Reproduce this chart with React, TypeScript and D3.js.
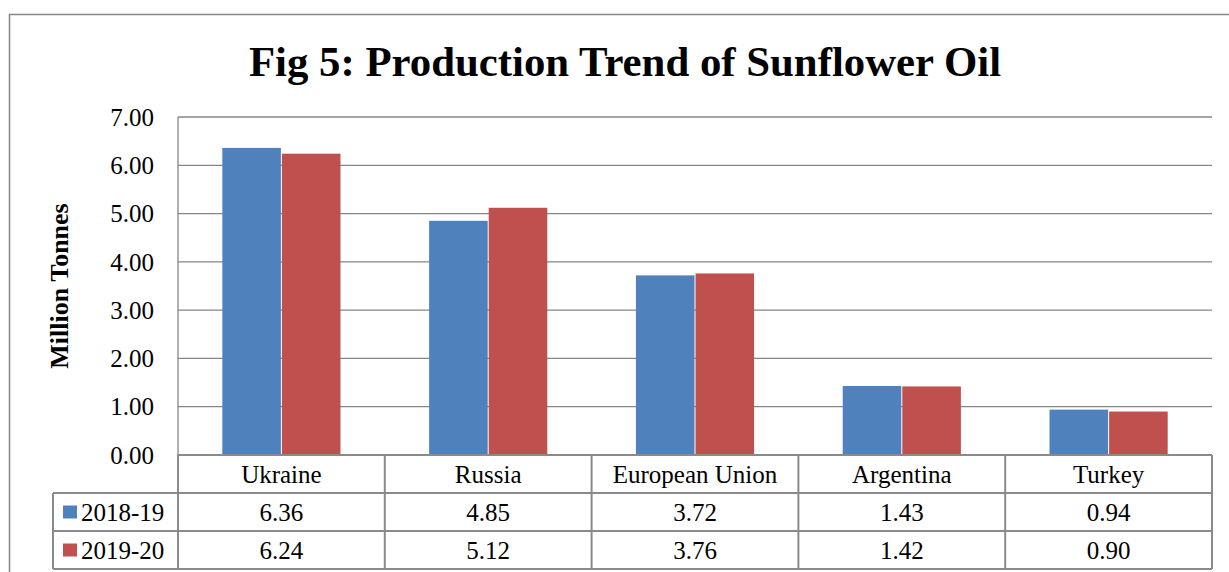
import React from "react";
import * as d3 from "d3";

const categories = ["Ukraine", "Russia", "European Union", "Argentina", "Turkey"];
const seriesNames = ["2018-19", "2019-20"];
const values2018 = [6.36, 4.85, 3.72, 1.43, 0.94];
const values2019 = [6.24, 5.12, 3.76, 1.42, 0.9];
const yTicks = [0, 1, 2, 3, 4, 5, 6, 7];
const colors = ["#4F81BD", "#C0504D"];

const W = 1229;
const H = 572;
const plot = { left: 178, right: 1212, top: 117, bottom: 455 };
const rowH = 38;
const legendLeft = 53;
const font = "'Liberation Serif', 'Times New Roman', serif";
const gridColor = "#868686";
const fs = 25;

const App = () => {
  const series = [values2018, values2019];

  const x = d3.scaleBand<string>()
    .domain(categories)
    .range([plot.left, plot.right]);

  // two bars of ~59px with ~44px gaps each side (Excel gap width 75%)
  const inner = d3.scaleBand<string>()
    .domain(seriesNames)
    .range([0, x.bandwidth()])
    .paddingOuter(0.75)
    .paddingInner(0);

  const y = d3.scaleLinear().domain([0, 7]).range([plot.bottom, plot.top]);

  const tableTop = plot.bottom;
  const rowsY = [tableTop, tableTop + rowH, tableTop + rowH * 2, tableTop + rowH * 3];

  return (
    <div style={{ position: "absolute", left: 0, top: 0 }}>
      <svg width={W} height={H} style={{ display: "block", background: "#fff" }}>
        <rect x={9.5} y={14.5} width={1240} height={620} fill="#fff" stroke="#878787" strokeWidth={1.5} />

        <text x={625} y={76} textAnchor="middle" fontFamily={font} fontWeight="bold" fontSize={42.8}>
          Fig 5: Production Trend of Sunflower Oil
        </text>

        {/* gridlines */}
        {yTicks.map((t) => (
          <line key={"g" + t} x1={plot.left} x2={plot.right} y1={y(t)} y2={y(t)} stroke={gridColor} strokeWidth={1.3} />
        ))}
        <line x1={plot.left} x2={plot.left} y1={plot.top} y2={plot.bottom} stroke={gridColor} strokeWidth={1.3} />

        {yTicks.map((t) => (
          <text key={"t" + t} x={154} y={y(t)} dy="0.35em" textAnchor="end" fontFamily={font} fontSize={fs}>
            {d3.format(".2f")(t)}
          </text>
        ))}

        <text
          transform={`translate(68,${(plot.top + plot.bottom) / 2}) rotate(-90)`}
          textAnchor="middle"
          fontFamily={font}
          fontWeight="bold"
          fontSize={26}
        >
          Million Tonnes
        </text>

        {/* bars */}
        {categories.map((c, i) => (
          <g key={c} transform={`translate(${x(c)},0)`}>
            {series.map((s, j) => (
              <rect
                key={j}
                x={inner(seriesNames[j])! + (j === 0 ? 0 : 0.5)}
                y={y(s[i])}
                width={inner.bandwidth() - 0.5}
                height={y(0) - y(s[i])}
                fill={colors[j]}
              />
            ))}
          </g>
        ))}

        {/* data table */}
        <g stroke="#8a8a8a" strokeWidth={2} fill="none">
          <line x1={plot.left} x2={plot.right} y1={rowsY[0]} y2={rowsY[0]} />
          <line x1={legendLeft} x2={plot.right} y1={rowsY[1]} y2={rowsY[1]} />
          <line x1={legendLeft} x2={plot.right} y1={rowsY[2]} y2={rowsY[2]} />
          <line x1={legendLeft} x2={plot.right} y1={rowsY[3]} y2={rowsY[3]} />
          <line x1={legendLeft} x2={legendLeft} y1={rowsY[1]} y2={rowsY[3]} />
          {categories.map((c) => (
            <line key={"v" + c} x1={x(c)} x2={x(c)} y1={rowsY[0]} y2={rowsY[3]} />
          ))}
          <line x1={plot.right} x2={plot.right} y1={rowsY[0]} y2={rowsY[3]} />
        </g>

        {categories.map((c) => (
          <text key={"c" + c} x={x(c)! + x.bandwidth() / 2} y={rowsY[0] + rowH / 2} dy="0.35em" textAnchor="middle" fontFamily={font} fontSize={fs}>
            {c}
          </text>
        ))}

        {series.map((s, j) => (
          <g key={"row" + j}>
            <rect x={63} y={rowsY[j + 1] + rowH / 2 - 6.5} width={14} height={13} fill={colors[j]} />
            <text x={81} y={rowsY[j + 1] + rowH / 2} dy="0.35em" fontFamily={font} fontSize={fs}>
              {seriesNames[j]}
            </text>
            {categories.map((c, i) => (
              <text key={c} x={x(c)! + x.bandwidth() / 2} y={rowsY[j + 1] + rowH / 2} dy="0.35em" textAnchor="middle" fontFamily={font} fontSize={fs}>
                {d3.format(".2f")(s[i])}
              </text>
            ))}
          </g>
        ))}
      </svg>
    </div>
  );
};

export default App;
